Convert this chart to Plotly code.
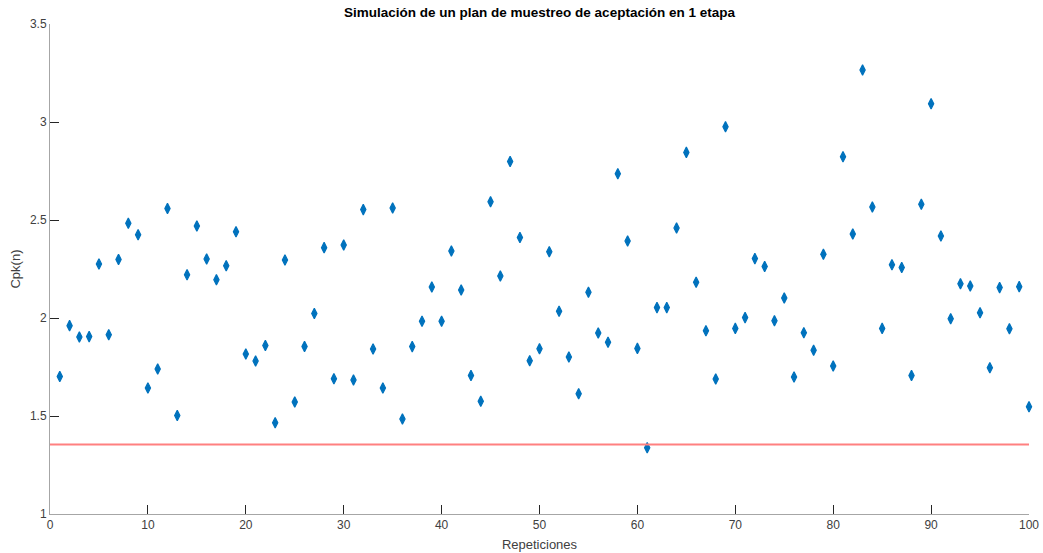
import plotly.graph_objects as go

repeticiones = list(range(1, 101))
cpk = [
    1.702, 1.961, 1.903, 1.905, 2.276, 1.915, 2.299, 2.483, 2.425, 1.643,
    1.740, 2.559, 1.503, 2.221, 2.469, 2.301, 2.195, 2.267, 2.440, 1.816,
    1.781, 1.860, 1.466, 2.296, 1.571, 1.855, 2.023, 2.359, 1.690, 2.372,
    1.684, 2.553, 1.842, 1.643, 2.561, 1.485, 1.854, 1.983, 2.158, 1.983,
    2.342, 2.143, 1.707, 1.575, 2.593, 2.214, 2.799, 2.411, 1.782, 1.843,
    2.338, 2.034, 1.801, 1.614, 2.131, 1.923, 1.876, 2.736, 2.393, 1.845,
    1.338, 2.053, 2.053, 2.459, 2.845, 2.182, 1.935, 1.689, 2.976, 1.947,
    2.002, 2.303, 2.263, 1.986, 2.102, 1.699, 1.925, 1.835, 2.325, 1.755,
    2.823, 2.429, 3.265, 2.566, 1.947, 2.272, 2.258, 1.707, 2.580, 3.093,
    2.418, 1.996, 2.175, 2.163, 2.027, 1.746, 2.155, 1.945, 2.160, 1.547,
]
limite_x = [0, 100]
limite_y = [1.355, 1.355]

x_ticks = [0, 10, 20, 30, 40, 50, 60, 70, 80, 90, 100]
y_ticks = [1, 1.5, 2, 2.5, 3, 3.5]
y_tick_labels = ["1", "1.5", "2", "2.5", "3", "3.5"]

fig = go.Figure()
fig.add_trace(go.Scatter(
    x=repeticiones, y=cpk, mode="markers",
    marker=dict(symbol="diamond-tall", size=7.5, color="#0072BD",
                line=dict(width=1.2, color="#0072BD")),
    showlegend=False, cliponaxis=False,
))
fig.add_trace(go.Scatter(
    x=limite_x, y=limite_y, mode="lines",
    line=dict(color="#FF8080", width=2),
    showlegend=False,
))

W, H = 1043, 553
font_family = "Liberation Sans, Arial, sans-serif"
fig.update_layout(
    width=W, height=H,
    margin=dict(l=50, r=14, t=24, b=39, autoexpand=False),
    plot_bgcolor="white", paper_bgcolor="white",
    title=dict(text="<b>Simulación de un plan de muestreo de aceptación en 1 etapa</b>",
               x=(50 + W - 14) / 2 / W, xanchor="center",
               y=1 - 12 / H, yanchor="middle",
               font=dict(family=font_family, size=13.5, color="black")),
    font=dict(family=font_family, size=12, color="#262626"),
)
fig.update_xaxes(
    range=[0, 100], tickvals=x_ticks, showgrid=False, zeroline=False,
    showline=True, linecolor="#a6a6a6", linewidth=1, automargin=False,
    ticks="inside", ticklen=9, tickcolor="#262626", tickwidth=1,
    tickfont=dict(size=12, color="#404040"),
    title=dict(text="Repeticiones", standoff=8,
               font=dict(size=13, color="#404040")),
)
fig.update_yaxes(
    range=[1, 3.5], tickvals=y_ticks, ticktext=y_tick_labels,
    showgrid=False, zeroline=False, automargin=False,
    showline=True, linecolor="#a6a6a6", linewidth=1,
    ticks="inside", ticklen=9, tickcolor="#262626", tickwidth=1,
    tickfont=dict(size=12, color="#404040"),
    title=dict(text="Cpk(n)", standoff=6,
               font=dict(size=13, color="#404040")),
)

fig.write_html(
    "out.html",
    config={"displayModeBar": False},
    post_script="document.body.style.margin='0';document.body.style.overflow='hidden';",
)
